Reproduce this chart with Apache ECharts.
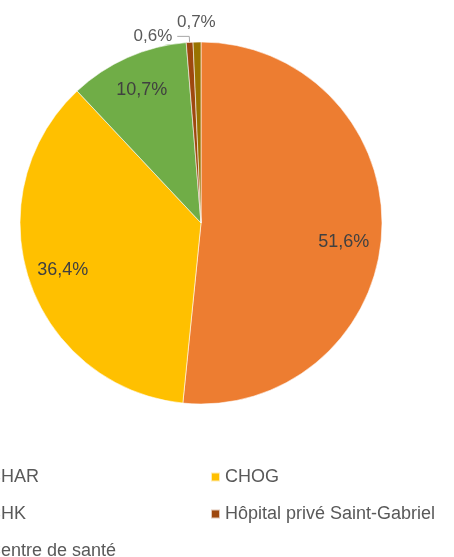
<!DOCTYPE html>
<html>
<head>
<meta charset="utf-8">
<script src="https://cdn.jsdelivr.net/npm/echarts@6/dist/echarts.min.js"></script>
<style>
  html, body { margin: 0; padding: 0; background: #fff; }
  #chart { width: 454px; height: 557px; }
</style>
</head>
<body>
<div id="chart"></div>
<script>
// répartition par établissement (%)
const categories = ['CHAR', 'CHOG', 'CHK', 'Hôpital privé Saint-Gabriel', 'Centre de santé'];
const values = [51.6, 36.4, 10.7, 0.6, 0.7];
const colors = ['#ED7D31', '#FFC000', '#70AD47', '#9E480E', '#997300'];
const leftLegend = ['CHAR', 'CHK', 'Centre de santé'];
const rightLegend = ['CHOG', 'Hôpital privé Saint-Gabriel'];

const FONT = '"Liberation Sans", Arial, sans-serif';
const fmt = v => v.toFixed(1).replace('.', ',') + '%';
const isSmall = v => v < 5;

const myChart = echarts.init(document.getElementById('chart'));

const legendBase = {
  orient: 'vertical',
  top: 467,
  height: 140,
  padding: 0,
  icon: 'rect',
  itemWidth: 9,
  itemHeight: 9,
  itemGap: 17,
  selectedMode: false,
  textStyle: { color: '#595959', fontSize: 18, fontFamily: FONT, lineHeight: 20 }
};

const options = {
  animation: false,
  color: colors,
  legend: [
    Object.assign({}, legendBase, { left: -27, data: leftLegend }),
    Object.assign({}, legendBase, { left: 210, data: rightLegend })
  ],
  series: [
    {
      // secteurs + étiquettes extérieures des petites parts
      type: 'pie',
      center: [201, 223],
      radius: [0, 181],
      startAngle: 90,
      clockwise: true,
      avoidLabelOverlap: false,
      itemStyle: { borderColor: 'rgba(255,255,255,0.7)', borderWidth: 0.8 },
      emphasis: { disabled: true },
      label: {
        show: true,
        position: 'outside',
        color: '#595959',
        fontSize: 17,
        fontFamily: FONT,
        formatter: p => fmt(p.value)
      },
      labelLine: { show: true, length: 6, length2: 12, lineStyle: { color: '#a6a6a6', width: 1 } },
      labelLayout: p => (p.dataIndex === 4 ? { dx: 24, dy: -6 } : {}),
      data: categories.map((name, i) => ({
        name,
        value: values[i],
        label: { show: isSmall(values[i]) },
        labelLine: i === 4 ? { show: false, length: 14, length2: 0 } : { show: isSmall(values[i]) }
      }))
    },
    {
      // étiquettes des grandes parts, posées vers le bord
      type: 'pie',
      center: [201, 223],
      radius: [105, 181],
      startAngle: 90,
      clockwise: true,
      silent: true,
      itemStyle: { color: 'transparent' },
      label: {
        position: 'inside',
        color: '#404040',
        fontSize: 18,
        fontFamily: FONT,
        formatter: p => fmt(p.value)
      },
      labelLine: { show: false },
      labelLayout: p => (p.dataIndex === 0 ? { dx: -3, dy: 12 } : {}),
      data: categories.map((name, i) => ({
        name,
        value: values[i],
        label: { show: !isSmall(values[i]) }
      }))
    }
  ]
};

myChart.setOption(options);
window.onresize = () => {
  myChart.resize();
};
</script>
</body>
</html>
